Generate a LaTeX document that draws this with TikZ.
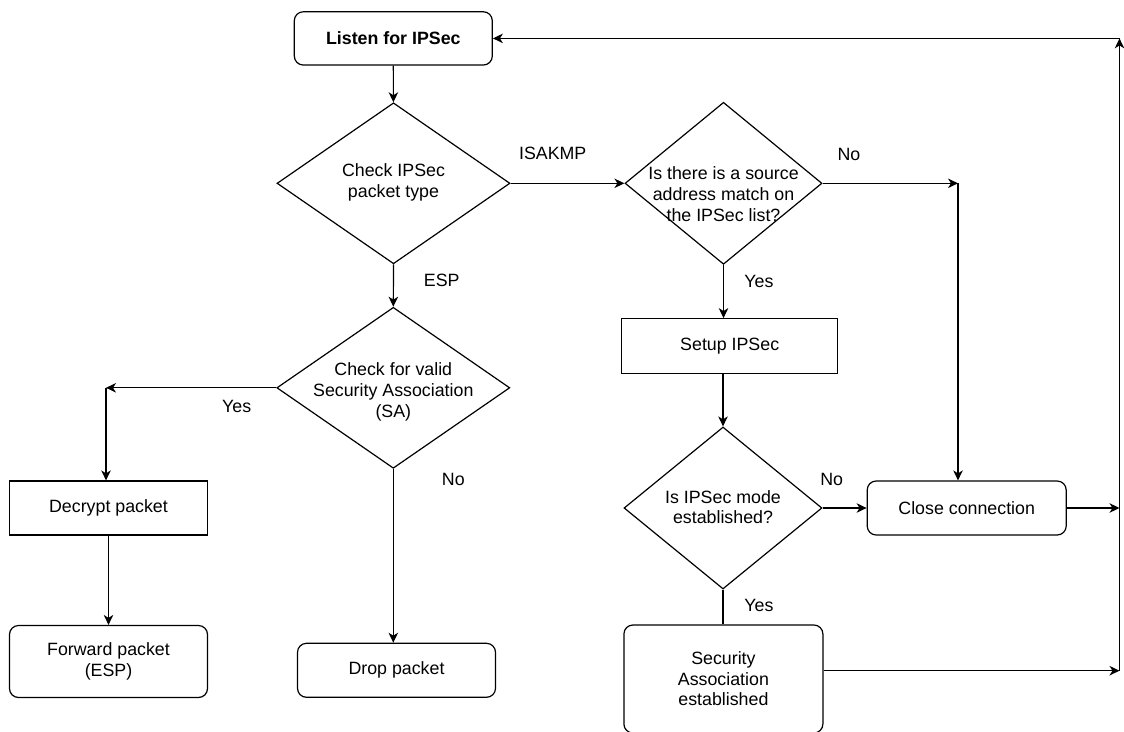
\documentclass[tikz,border=0pt]{standalone}
\usepackage{fontspec}
\setmainfont{Liberation Sans}
\usetikzlibrary{shapes.geometric,arrows.meta}

% centred, zero-size multi-line text for decision diamonds (optional downward shift)
\newcommand\ctrtext[2][0pt]{\makebox[0pt]{\raisebox{\dimexpr-0.27em-#1\relax}[0pt][0pt]{\begin{tabular}{@{}c@{}}#2\end{tabular}}}}

\tikzset{
  base/.style={font=\fontsize{17.8}{20.6}\selectfont, line width=1.2pt},
  proc/.style={base, draw, rectangle, align=center, inner sep=0pt,
               minimum width=198pt, minimum height=54pt},
  term/.style={proc, rounded corners=9pt},
  decision/.style={base, draw, diamond, inner sep=0pt},
  tag/.style={font=\fontsize{17.8}{20.6}\selectfont, inner sep=0pt},
  arr/.style={line width=1.2pt, -{Stealth[length=10pt,width=9.5pt,inset=3pt]}},
  plain/.style={line width=1.2pt}
}

\begin{document}
\begin{tikzpicture}[x=1pt,y=-1pt]
\useasboundingbox (0,0) rectangle (1124,731);

% --- nodes ---
\node[term, minimum height=53.3pt] (listen) at (393.3,38.4) {\bfseries Listen for IPSec};
\node[decision, minimum width=233pt, minimum height=161pt] (d1) at (393.5,183.3)
  {\ctrtext[-1pt]{Check IPSec\\packet type}};
\node[decision, minimum width=197pt, minimum height=162pt] (d2) at (723.5,183.3)
  {\ctrtext[12.5pt]{Is there is a source\\address match on\\the IPSec list?}};
\node[proc, minimum width=216pt, minimum height=54.6pt] (setup) at (729.7,346) {Setup IPSec};
\node[decision, minimum width=198pt, minimum height=162pt] (d3) at (723,508)
  {\ctrtext[1pt]{Is IPSec mode\\established?}};
\node[term, minimum width=199pt] (close) at (966.7,508) {Close connection};
\node[term, minimum width=199pt, minimum height=108pt] (sa) at (723.4,679)
  {Security\\Association\\established};
\node[decision, minimum width=233pt, minimum height=161pt] (d4) at (393.3,387.8)
  {\ctrtext[4pt]{Check for valid\\Security Association\\(SA)}};
\node[proc] (decrypt) at (108.5,508) {Decrypt packet};
\node[term, minimum height=72pt] (forward) at (108.5,661.5) {Forward packet\\(ESP)};
\node[term] (drop) at (396.5,670.3) {Drop packet};

% --- routing points ---
\coordinate (nojoin) at (958,183.3);
\coordinate (yesturn) at (106,387.8);
\coordinate (railtop) at (1119.5,38.4);
\coordinate (railbot) at (1119.5,670.7);

% --- connectors ---
\draw[arr] (listen) -- (d1);
\draw[arr] (d1.east) -- (d2.west);
\draw[arr] (d2.east) -- (nojoin);
\draw[arr] (nojoin) -- (nojoin |- close.north);
\draw[arr] (d2.south) -- (d2.south |- setup.north);
\draw[arr] (setup.south -| d3.north) -- (d3.north);
\draw[arr] (d3.east) -- (close.west);
\draw[plain] (d3.south) -- (d3.south |- sa.north);
\draw[arr] (close.east) -- (close.east -| railtop);
\draw[arr] (sa.east |- railbot) -- (railbot);
\draw[arr] (railbot) -- (railtop);
\draw[arr] (railtop) -- (listen.east);
\draw[arr] (d1.south) -- (d4.north);
\draw[arr] (d4.west) -- (yesturn);
\draw[arr] (yesturn) -- (yesturn |- decrypt.north);
\draw[arr] (decrypt) -- (forward);
\draw[arr] (d4.south) -- (d4.south |- drop.north);

% --- branch labels ---
\node[tag] (lisakmp) at (552.7,153.3) {ISAKMP};
\node[tag] (lesp) at (441.7,280.7) {ESP};
\node[tag] (ld2no) at (849,154) {No};
\node[tag] (ld2yes) at (759,281) {Yes};
\node[tag] (ld3no) at (831.7,479) {No};
\node[tag] (ld3yes) at (759,605.7) {Yes};
\node[tag] (ld4yes) at (236.7,406.7) {Yes};
\node[tag] (ld4no) at (453.3,479) {No};
\end{tikzpicture}
\end{document}
